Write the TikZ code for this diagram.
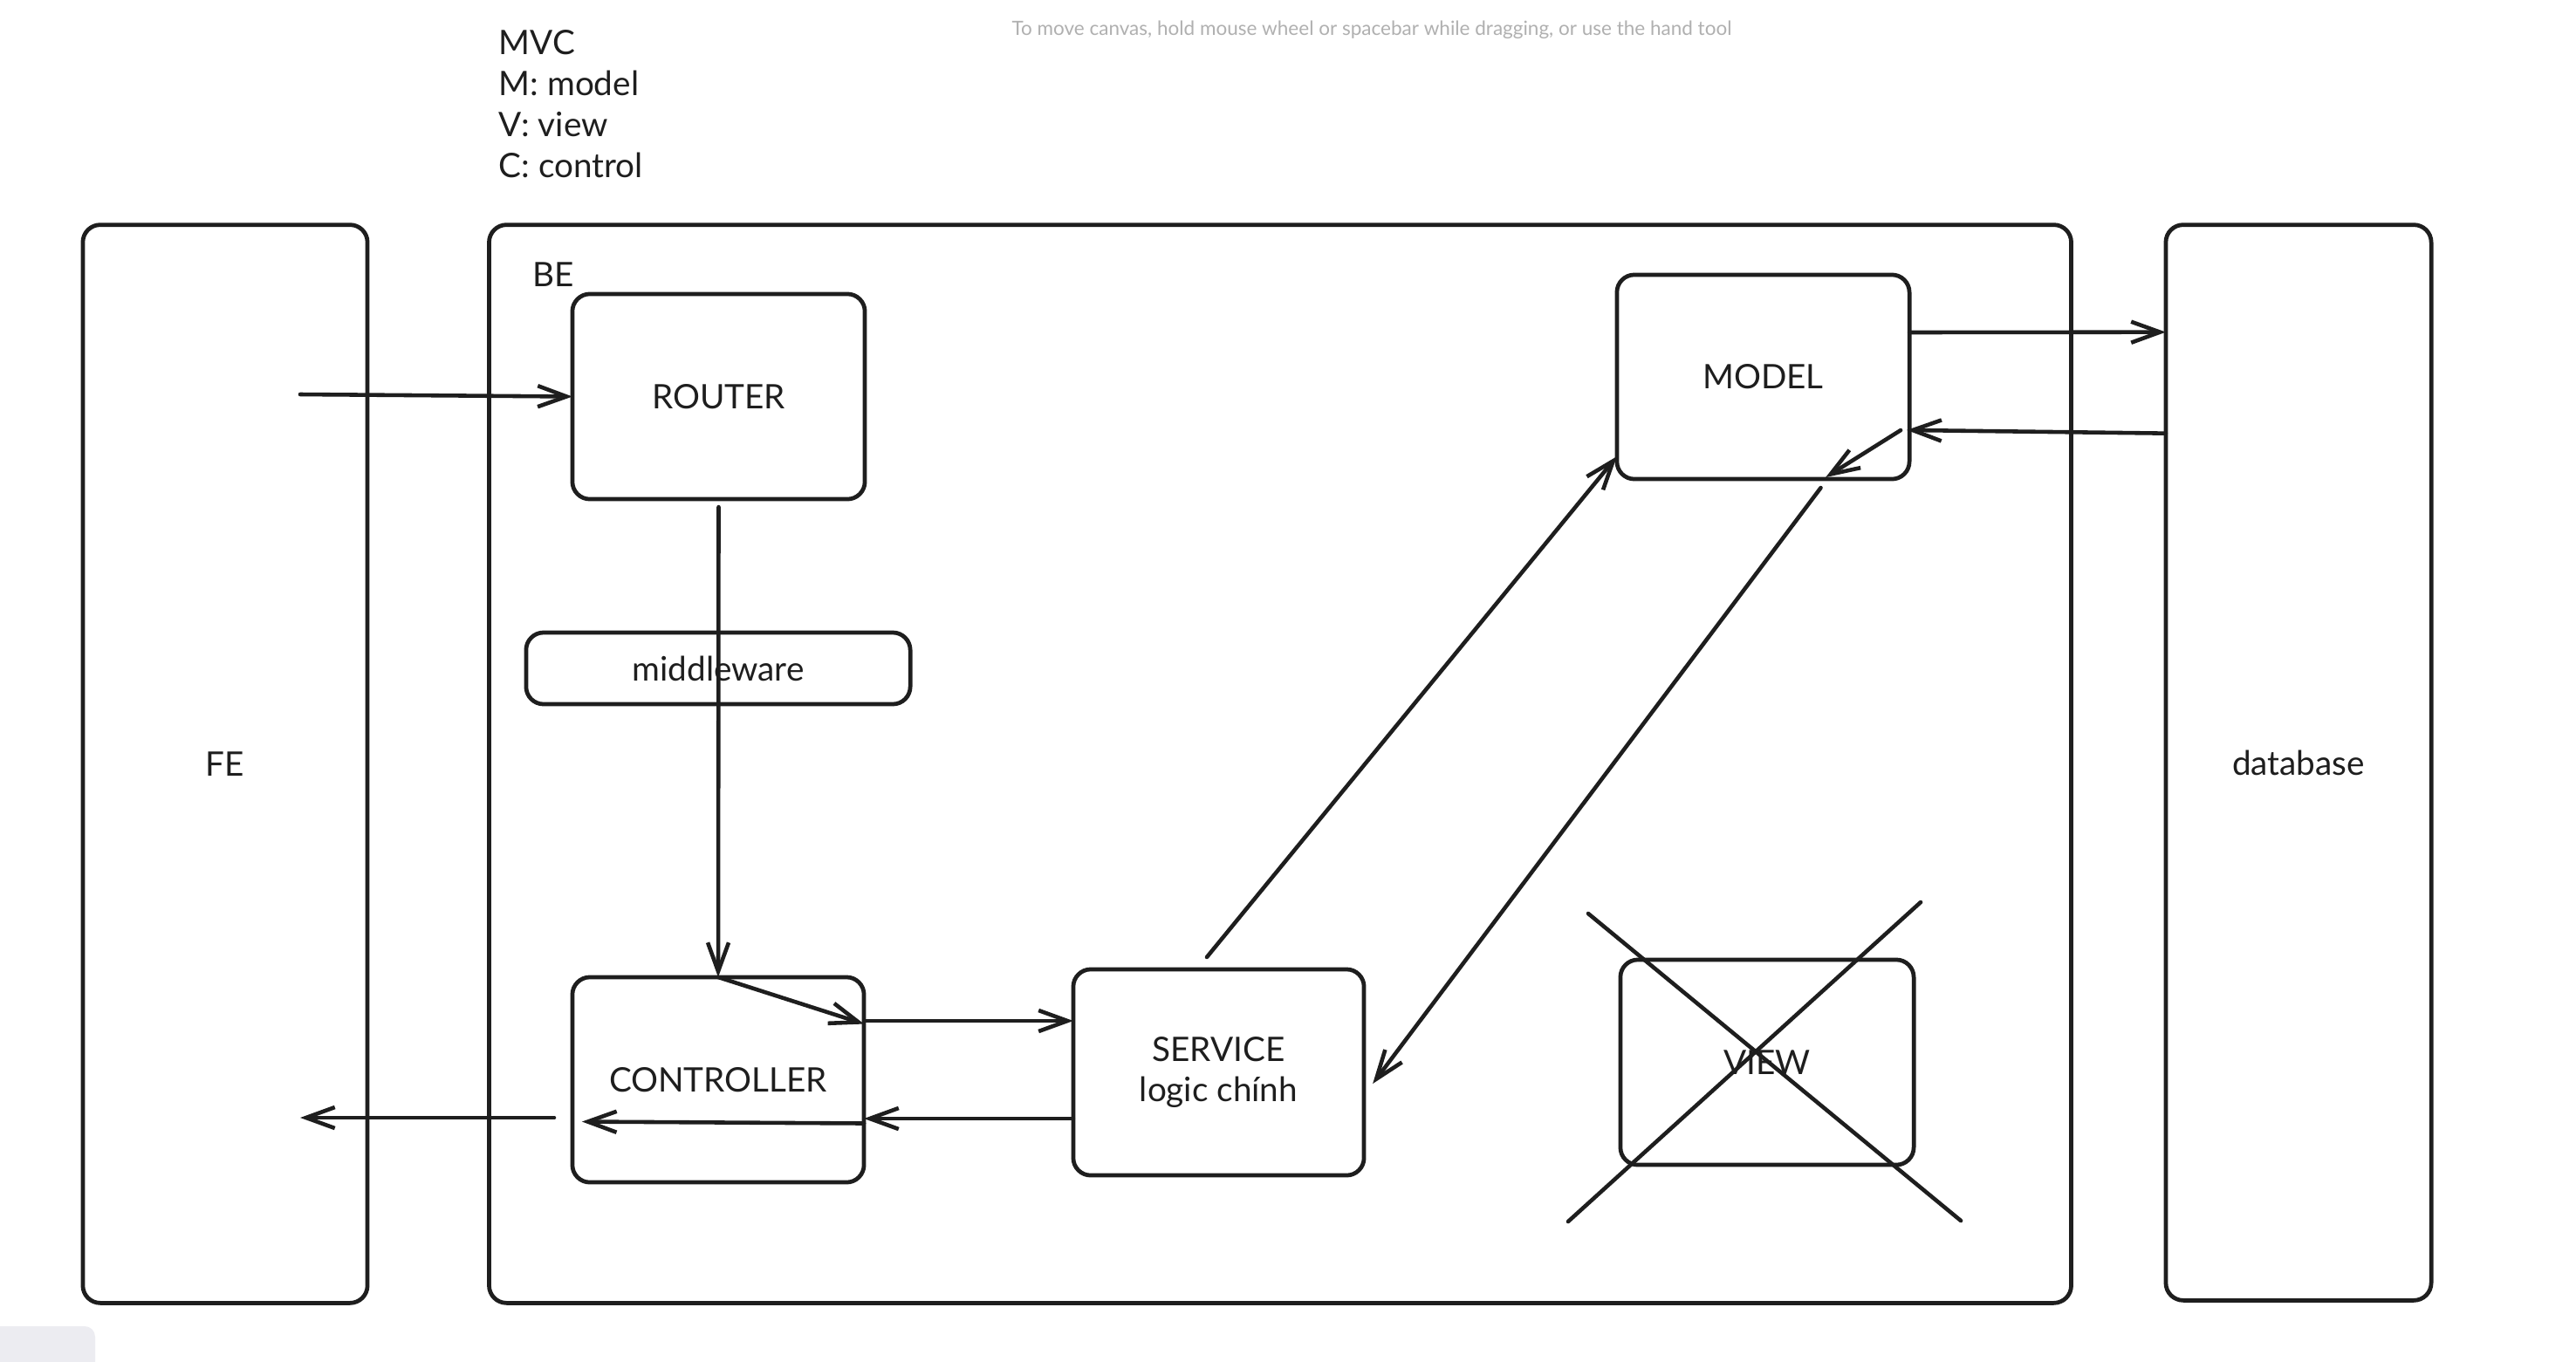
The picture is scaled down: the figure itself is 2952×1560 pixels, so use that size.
\documentclass[tikz,border=0pt]{standalone}
\usepackage{fontspec}
\setmainfont{Lato}
\usetikzlibrary{arrows.meta}
\definecolor{ink}{HTML}{1E1E1E}
\definecolor{hint}{HTML}{B0B0B0}
\definecolor{panel}{HTML}{ECECF1}
\begin{document}
\begin{tikzpicture}[x=0.01cm,y=-0.01cm,>={Straight Barb[length=0.33cm,width=0.24cm]}, line join=round, line cap=round,
  font=\fontsize{11}{13}\selectfont,
  box/.style={draw=ink,text=ink,line width=1.35pt,rounded corners=0.2cm,inner sep=0pt,outer sep=0pt,align=center},
  link/.style={draw=ink,line width=1.3pt,->},
  label/.style={text=ink,inner sep=0pt}]
\useasboundingbox[fill=white] (0,0) rectangle (2952,1560);
\fill[panel,rounded corners=0.12cm] (-20,1520) rectangle (109,1600);
% columns
\node[box,minimum width=3.26cm,minimum height=12.35cm] (FE) at (258,875.5) {FE};
\node[box,minimum width=18.12cm,minimum height=12.35cm] (BE) at (1467,875.5) {};
\node[box,minimum width=3.04cm,minimum height=12.32cm] (db) at (2634,874) {database};
\node[label,anchor=west] (belabel) at (610,315) {BE};
% inner boxes
\node[box,minimum width=3.35cm,minimum height=2.35cm] (router) at (823.5,454.5) {ROUTER};
\node[box,minimum width=4.4cm,minimum height=0.82cm] (mw) at (823,766) {middleware};
\node[box,minimum width=3.34cm,minimum height=2.35cm] (ctrl) at (823,1237.5) {CONTROLLER};
\node[box,minimum width=3.33cm,minimum height=2.36cm] (svc) at (1396.5,1229) {SERVICE\\logic chính};
\node[box,minimum width=3.35cm,minimum height=2.34cm] (model) at (2020.5,432) {MODEL};
\node[box,minimum width=3.36cm,minimum height=2.35cm] (view) at (2025,1217.5) {VIEW};
% notes
\foreach \t [count=\i] in {MVC,M: model,V: view,C: control}
  \node[label,anchor=base west] (mvc\i) at (571,15+47*\i) {\t};
\node[text=hint,font=\fontsize{6.4}{7}\selectfont] (hint) at (1572,34) {To move canvas, hold mouse wheel or spacebar while dragging, or use the hand tool};
\path
  (344,452) coordinate (req)
  (635,1281) coordinate (res)
  (344,1281) coordinate (resend)
  ;
% arrows
\draw[link] (req) -- (router.west);
\draw[link] ([shift={(0,9)}]router.south) -- (ctrl.north);
\draw[link] (ctrl.north) -- ([shift={(0,-64)}]ctrl.east);
\draw[link] ([shift={(0,-67.5)}]ctrl.east) -- ([shift={(0,-59)}]svc.west);
\draw[link] ([shift={(0,53)}]svc.west) -- ([shift={(0,44.5)}]ctrl.east);
\draw[link] ([shift={(0,50)}]ctrl.east) -- ([shift={(11,48)}]ctrl.west);
\draw[link] (res) -- (resend);
\draw[link] ([shift={(-13.5,-14)}]svc.north) -- ([shift={(0,-26)}]model.south west);
\draw[link] ([shift={(66,10)}]model.south) -- ([shift={(10,13)}]svc.east);
\draw[link] ([shift={(0,-51)}]model.east) -- ([shift={(0,123)}]db.north west);
\draw[link] ([shift={(0,239)}]db.north west) -- ([shift={(-3,178)}]model.north east);
\draw[link] ([shift={(-10,-56)}]model.south east) -- ([shift={(-96,-2)}]model.south east);
% crossed out
\draw[ink,line width=1.3pt] ([shift={(-205,-170.5)}]view.center) -- ([shift={(222,181.5)}]view.center)
  ([shift={(176,-183.5)}]view.center) -- ([shift={(-228,182.5)}]view.center);
\end{tikzpicture}
\end{document}
